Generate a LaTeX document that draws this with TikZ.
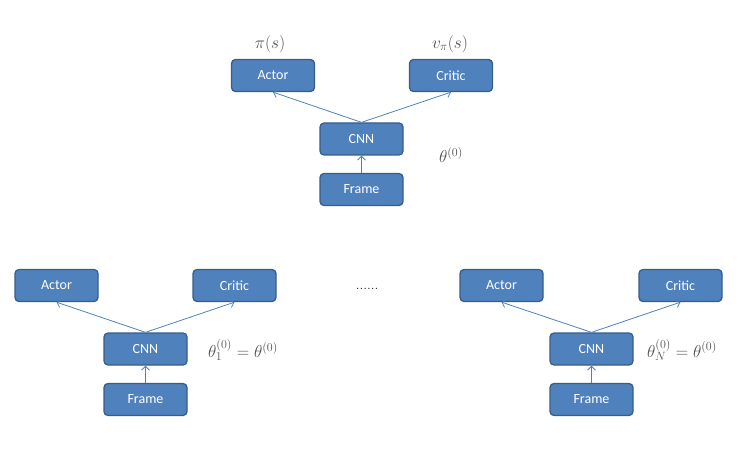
\documentclass[tikz,border=0pt]{standalone}
\usepackage{fontspec}
\newfontfamily\boxfont{Carlito}
\usetikzlibrary{arrows.meta}
\definecolor{boxfill}{HTML}{4F81BD}
\definecolor{boxline}{HTML}{385D8A}
\definecolor{lbl}{HTML}{505050}
\tikzset{
  box/.style={draw=boxline, line width=1.3pt, fill=boxfill, rounded corners=4pt,
    minimum width=83pt, minimum height=32pt, inner sep=0pt,
    text=white, font=\boxfont\fontsize{14}{16}\selectfont},
  conn/.style={draw=boxfill, line width=0.8pt, -{Straight Barb[length=4pt,width=8pt]}},
  mlabel/.style={text=lbl, font=\fontsize{17}{19}\selectfont, inner sep=0pt}
}
\begin{document}
\begin{tikzpicture}[x=1pt,y=-1pt]
\useasboundingbox (0,0) rectangle (738,449);
% top group
\node[box] (a0) at (273,75.5) {Actor};
\node[box] (c0) at (451,75.5) {Critic};
\node[box] (n0) at (361.5,139) {CNN};
\node[box] (f0) at (361.5,189.5) {Frame};
\draw[conn] (n0.north) -- (a0.south);
\draw[conn] (n0.north) -- (c0.south);
\draw[conn] (f0.north) -- (n0.south);
\node[mlabel] (pi) at (270,44) {$\pi(s)$};
\node[mlabel] (vpi) at (450,44) {$v_\pi(s)$};
\node[mlabel] (th0) at (451,155) {$\theta^{(0)}$};
% bottom left
\node[box] (a1) at (56.5,285.5) {Actor};
\node[box] (c1) at (234.5,285.5) {Critic};
\node[box] (n1) at (145.5,349) {CNN};
\node[box] (f1) at (145.5,399.5) {Frame};
\draw[conn] (n1.north) -- (a1.south);
\draw[conn] (n1.north) -- (c1.south);
\draw[conn] (f1.north) -- (n1.south);
\node[mlabel] (th1) at (243,350) {$\theta_1^{(0)}=\theta^{(0)}$};
% dots
\node[font=\fontsize{15}{17}\selectfont, inner sep=0pt] (dots) at (367,289) {......};
% bottom right
\node[box] (a2) at (501.5,285.5) {Actor};
\node[box] (c2) at (680.5,285.5) {Critic};
\node[box] (n2) at (591.5,349) {CNN};
\node[box] (f2) at (591.5,399.5) {Frame};
\draw[conn] (n2.north) -- (a2.south);
\draw[conn] (n2.north) -- (c2.south);
\draw[conn] (f2.north) -- (n2.south);
\node[mlabel] (th2) at (682,350) {$\theta_N^{(0)}=\theta^{(0)}$};
\end{tikzpicture}
\end{document}
